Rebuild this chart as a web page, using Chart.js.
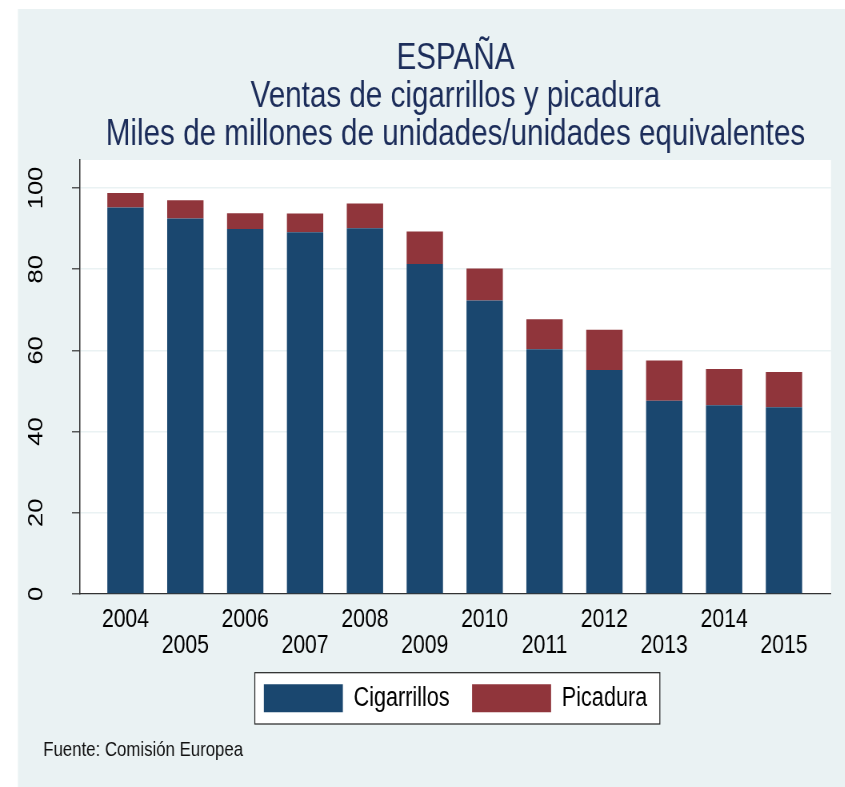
<!DOCTYPE html>
<html>
<head>
<meta charset="utf-8">
<script src="https://cdn.jsdelivr.net/npm/chart.js@4"></script>
<style>
  html, body { margin: 0; background: #fff; overflow: hidden; }
  /* the reference is an Arial chart squeezed sideways, so draw wide and squeeze */
  #wrap { position: absolute; left: 0; top: 0; width: 1056px; height: 787px; transform: scaleX(0.8); transform-origin: 0 0; }
</style>
</head>
<body>
<div id="wrap"><canvas id="chartCanvas"></canvas></div>
<script>
const years = ['2004','2005','2006','2007','2008','2009','2010','2011','2012','2013','2014','2015'];
const cigarrillos = [95.2, 92.5, 89.9, 89.1, 90.1, 81.3, 72.3, 60.3, 55.2, 47.6, 46.5, 46.0];
const picadura = [3.6, 4.5, 3.9, 4.6, 6.1, 8.0, 7.9, 7.4, 9.9, 9.9, 8.9, 8.7];
const yTicks = [0, 20, 40, 60, 80, 100];
const titleLines = ['ESPAÑA', 'Ventas de cigarrillos y picadura', 'Miles de millones de unidades/unidades equivalentes'];
const sourceNote = 'Fuente: Comisión Europea';

const FONT = "'Liberation Sans', Arial, sans-serif";

function toPoints(vals) {
    return years.map((y, i) => ({ x: Number(y), y: vals[i] }));
}

// stata style backgrounds, framed legend and the source note
const backdrop = {
    id: 'backdrop',
    beforeDraw(chart) {
        const ctx = chart.ctx;
        const a = chart.chartArea;
        ctx.save();
        ctx.fillStyle = '#ffffff';
        ctx.fillRect(0, 0, chart.width, chart.height);
        ctx.fillStyle = '#EAF2F3';
        ctx.fillRect(22.5, 9, chart.width - 22.5, chart.height - 9);
        ctx.fillStyle = '#ffffff';
        ctx.fillRect(a.left, a.top, a.right - a.left, a.bottom - a.top);

        const hb = chart.legend.legendHitBoxes;
        if (hb && hb.length) {
            const last = hb[hb.length - 1];
            const l = hb[0].left - 11.3, t = hb[0].top - 11.6;
            const r = last.left + last.width + 15.9;
            ctx.fillStyle = '#ffffff';
            ctx.fillRect(l, t, r - l, 51.3);
            ctx.strokeStyle = '#222';
            ctx.lineWidth = 1.2;
            ctx.strokeRect(l, t, r - l, 51.3);
        }
        ctx.restore();
    },
    afterDraw(chart) {
        const ctx = chart.ctx;
        ctx.save();
        ctx.font = '21px ' + FONT;
        ctx.fillStyle = '#111';
        ctx.textAlign = 'left';
        ctx.textBaseline = 'alphabetic';
        ctx.fillText(sourceNote, 54.1, 756);
        ctx.restore();
    }
};

const minYear = Number(years[0]) - 0.76;
const maxYear = Number(years[years.length - 1]) + 0.785;

new Chart(document.getElementById('chartCanvas').getContext('2d'), {
    type: 'bar',
    data: {
        datasets: [
            { label: 'Cigarrillos', data: toPoints(cigarrillos), backgroundColor: '#1A476F', borderWidth: 0 },
            { label: 'Picadura', data: toPoints(picadura), backgroundColor: '#90353B', borderWidth: 0 }
        ]
    },
    options: {
        responsive: true,
        maintainAspectRatio: false,
        animation: false,
        datasets: { bar: { categoryPercentage: 1, barPercentage: 0.607 } },
        layout: { padding: { left: 0, right: 17.25, top: 0, bottom: 70.7 } },
        plugins: {
            tooltip: { enabled: false },
            title: {
                display: true,
                text: titleLines,
                fullSize: false,
                color: '#1C2D5A',
                font: { family: FONT, size: 37, weight: 'normal', lineHeight: 1.0216 },
                padding: { top: 40, bottom: 6.6 }
            },
            legend: {
                position: 'bottom',
                fullSize: false,
                maxHeight: 60,
                labels: {
                    boxWidth: 98.75,
                    boxHeight: 28,
                    padding: 28,
                    color: '#000',
                    font: { family: FONT, size: 27 }
                }
            }
        },
        scales: {
            x: {
                type: 'linear',
                stacked: true,
                offset: false,
                min: minYear,
                max: maxYear,
                grid: { display: false, drawTicks: false, offset: false },
                border: { display: true, color: '#333', width: 1.3 },
                afterFit(scale) { scale.height = 62.3; },
                ticks: {
                    stepSize: 1,
                    includeBounds: false,
                    autoSkip: false,
                    maxRotation: 0,
                    padding: 12.8,
                    color: '#000',
                    font: { family: FONT, size: 26.5, lineHeight: 0.981 },
                    callback: (v) => {
                        const i = years.indexOf(String(v));
                        if (i < 0) return '';
                        return i % 2 === 0 ? years[i] : ['', years[i]];
                    }
                }
            },
            y: {
                stacked: true,
                min: 0,
                max: 106.9,
                afterFit(scale) { scale.width = 100; },
                afterBuildTicks(scale) { scale.ticks = yTicks.map(v => ({ value: v })); },
                grid: { color: '#EAF2F3', lineWidth: 1.6, tickColor: '#333', tickLength: 10, tickWidth: 1.2 },
                border: { display: true, color: '#333', width: 1.5 },
                ticks: {
                    minRotation: 90,
                    maxRotation: 90,
                    crossAlign: 'center',
                    padding: 23.1,
                    color: '#000',
                    font: { family: FONT, size: 25.5 }
                }
            }
        }
    },
    plugins: [backdrop]
});
</script>
</body>
</html>
